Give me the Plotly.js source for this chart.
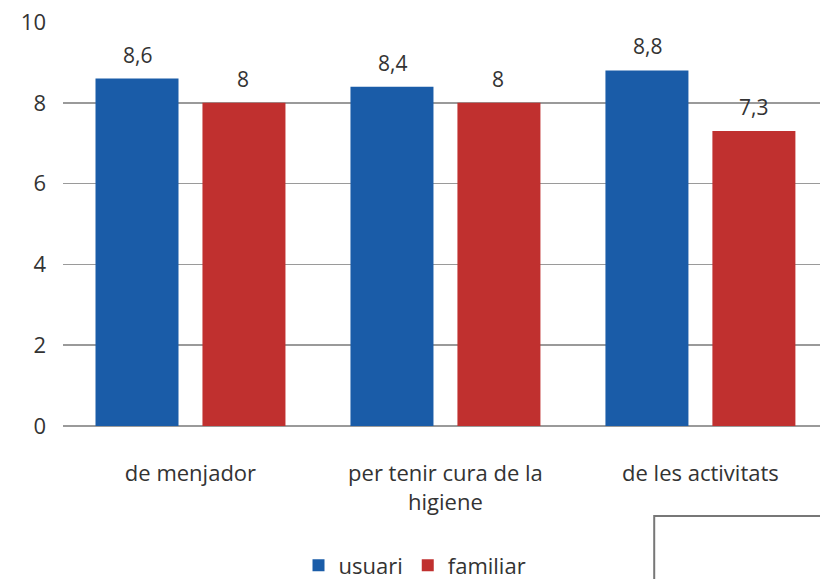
<!DOCTYPE html>
<html><head><meta charset="utf-8">
<script src="https://cdn.plot.ly/plotly-3.0.1.min.js"></script>
<style>html,body{margin:0;padding:0;background:#fff;}#chart{width:820px;height:579px;}</style>
</head><body><div id="chart"></div>
<script>
const categories = ["de menjador", "per tenir cura de la<br>higiene", "de les activitats"];
const usuari = [8.6, 8.4, 8.8];
const familiar = [8, 8, 7.3];
const seriesNames = ["usuari", "familiar"];
const yTicks = [0, 2, 4, 6, 8, 10];

const colors = ["#1a5ca8", "#c0302f"];
const font = "'Open Sans', Lato, sans-serif";
const fmt = v => String(v).replace('.', ',');

const traces = [usuari, familiar].map((vals, i) => ({
  type: 'bar', name: seriesNames[i], x: categories, y: vals,
  marker: {color: colors[i]}, hoverinfo: 'skip'
}));

const annotations = [];
[usuari, familiar].forEach((vals, i) => {
  vals.forEach((v, j) => {
    annotations.push({x: categories[j], y: v, xref: 'x', yref: 'y', text: fmt(v),
      showarrow: false, yanchor: 'bottom', yshift: 8, xshift: i === 0 ? -53 : 53,
      font: {family: font, size: 21, color: '#333'}});
  });
});

const layout = {
  width: 820, height: 579,
  margin: {l: 63, r: 0, t: 22, b: 153, autoexpand: false},
  paper_bgcolor: '#fff', plot_bgcolor: '#fff',
  separators: ', ',
  barmode: 'group', bargap: 0.161, bargroupgap: 0.224,
  font: {family: font, size: 22, color: '#333'},
  xaxis: {range: [-0.5, 2.469], showgrid: false, showline: false, zeroline: false,
    ticks: '', ticklabelstandoff: 32, tickfont: {size: 22, color: '#333'}, fixedrange: true},
  yaxis: {range: [0, 10], tickvals: yTicks, ticktext: yTicks.map(String),
    showgrid: true, gridcolor: '#9a9a9a', gridwidth: 1.5, zeroline: true, zerolinecolor: '#9a9a9a', zerolinewidth: 1.5,
    showline: false, ticks: '', ticklabelstandoff: 16, tickfont: {size: 22, color: '#333'}, fixedrange: true},
  showlegend: true,
  legend: {orientation: 'h', x: 0.465, xanchor: 'center', y: -0.345, yanchor: 'middle',
    font: {size: 22, color: '#333'}, itemwidth: 20, tracegroupgap: 0},
  annotations: annotations,
  shapes: [{type: 'rect', xref: 'paper', yref: 'paper', x0: 0.781, x1: 1.05, y0: -0.223, y1: -0.6,
    line: {color: '#777', width: 2}}]
};
Plotly.newPlot('chart', traces, layout, {displayModeBar: false, staticPlot: true});
</script></body></html>
